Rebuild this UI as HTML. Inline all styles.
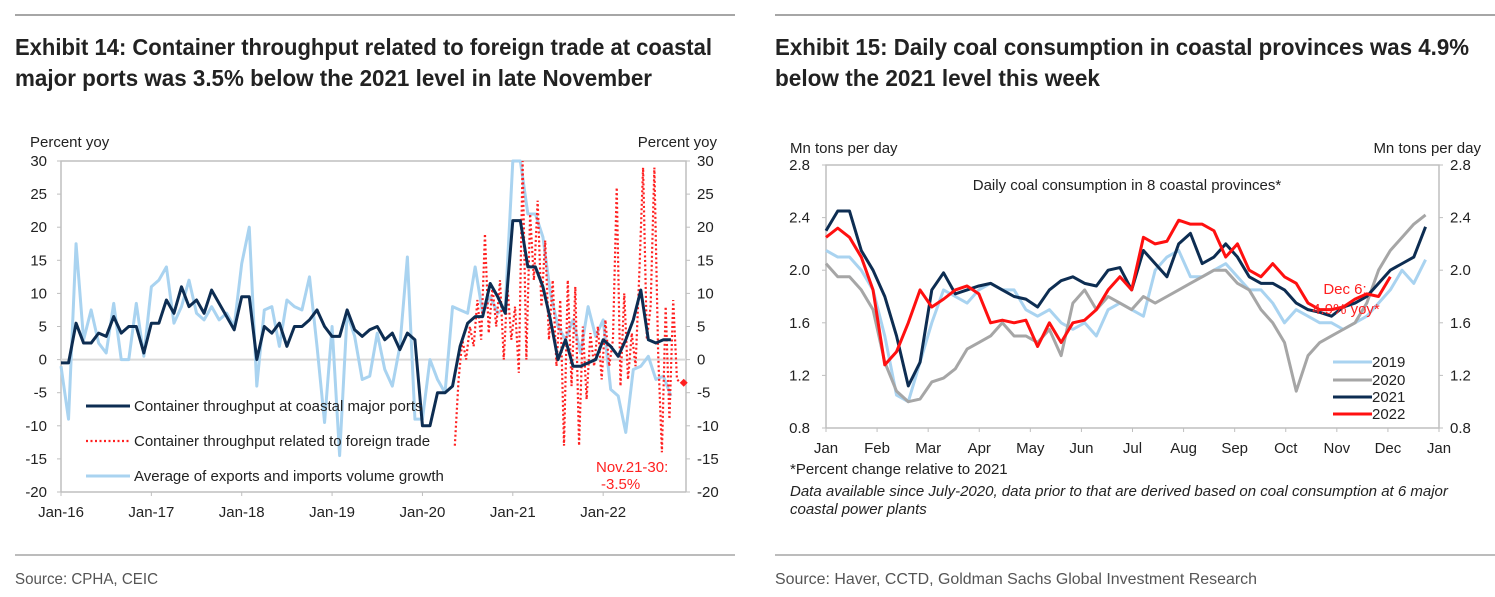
<!DOCTYPE html>
<html><head><meta charset="utf-8"><style>
html,body{margin:0;padding:0;background:#fff;}
svg{display:block;font-family:"Liberation Sans Narrow","Liberation Sans",sans-serif;}
</style></head><body>
<svg id="s" width="1495" height="597" viewBox="0 0 1495 597" xmlns="http://www.w3.org/2000/svg">
<line x1="15" y1="15" x2="735" y2="15" stroke="#a6a6a6" stroke-width="2"/>
<line x1="775" y1="15" x2="1495" y2="15" stroke="#a6a6a6" stroke-width="2"/>
<line x1="15" y1="555" x2="735" y2="555" stroke="#a6a6a6" stroke-width="1.5"/>
<line x1="775" y1="555" x2="1495" y2="555" stroke="#a6a6a6" stroke-width="1.5"/>
<g font-weight="bold" font-size="23" fill="#222">
<text x="15" y="55" textLength="697" lengthAdjust="spacingAndGlyphs">Exhibit 14: Container throughput related to foreign trade at coastal</text>
<text x="15" y="86" textLength="637" lengthAdjust="spacingAndGlyphs">major ports was 3.5% below the 2021 level in late November</text>
<text x="775" y="55" textLength="694" lengthAdjust="spacingAndGlyphs">Exhibit 15: Daily coal consumption in coastal provinces was 4.9%</text>
<text x="775" y="86" textLength="325" lengthAdjust="spacingAndGlyphs">below the 2021 level this week</text>
</g>
<text x="15" y="584" font-size="16" fill="#555" textLength="143" lengthAdjust="spacingAndGlyphs">Source: CPHA, CEIC</text>
<text x="775" y="584" font-size="16" fill="#555" textLength="482" lengthAdjust="spacingAndGlyphs">Source: Haver, CCTD, Goldman Sachs Global Investment Research</text>
<g id="left"></g>
<g id="right"></g>
</svg>
<script>
// ---- Left chart data (monthly from Jan-16) ----
const leftYears = ["Jan-16","Jan-17","Jan-18","Jan-19","Jan-20","Jan-21","Jan-22"];
const leftTicks = [30,25,20,15,10,5,0,-5,-10,-15,-20];
const portsThroughput = [-0.5,-0.5,5.5,2.5,2.5,4,3.5,6.5,4,5,5,1, 5.5,5.5,9,7,11,8,9,7,10.5,8.5,6.5,4.5, 9.5,9.5,0,5,4,5.5,2,5,5,6,7.5,5, 3.5,3.5,7.5,4.5,3.5,4.5,5,3,4,1.5,4,3, -10,-10,-5,-5,-4,2,5.5,6.5,6.5,11.5,9.5,7, 21,21,14,14,11,6,0,3,-1,-1,-0.5,0, 3,2,0.5,3,6,10.5,3,2.5,3,3];
const tradeVolume = [-1,-9,17.5,3,7.5,2.5,1,8.5,0,0,8.5,0.5, 11,12,14,5.5,8,12,7,6,8,6,7,5, 14.5,20,-4,7.5,8,2,9,8,7.5,12.5,2,-9.5, 5,-14.5,7,3.5,-3,-2.5,4,-1.5,-4,2,15.5,-9, -9,0,-3,-5,8,7.5,7,14,7,9.5,7,8, 30,30,22,22,18.5,10,5,3,6,1,8,3.5, 6,-4.5,-5.5,-11,-1.5,-1,0.5,-3,-2.5,-5.5];
const foreignTradeStart = 52.3; // month index of first foreign-trade observation
const foreignTrade = [-13,-3,3,0,5,2,9,3,19,4,11,5,12,0,11,3,8,-2,30,0,22,12,24,8,18,3,12,-1,9,-13,12,-4,11,-13,5,-6,4,-1,5,-3,6,-1,3,26,-4,10,-3,4,-1,13,29,3,8,29,1,-14,8,-9,9,-3,-3.5];
const latestValue = -3.5;

// ---- Right chart data (weekly, day-of-year = week*7) ----
const monthLabels = ["Jan","Feb","Mar","Apr","May","Jun","Jul","Aug","Sep","Oct","Nov","Dec","Jan"];
const rightTicks = [2.8,2.4,2.0,1.6,1.2,0.8];
const coal2019 = [2.15,2.1,2.1,2.0,1.85,1.5,1.05,1.0,1.3,1.6,1.85,1.8,1.75,1.85,1.9,1.85,1.85,1.7,1.65,1.7,1.6,1.55,1.6,1.5,1.7,1.75,1.7,1.65,2.0,2.1,2.15,1.95,1.95,2.0,2.05,1.95,1.85,1.85,1.75,1.6,1.7,1.65,1.6,1.6,1.55,1.6,1.65,1.75,1.85,2.0,1.9,2.08];
const coal2020 = [2.05,1.95,1.95,1.85,1.7,1.3,1.08,1.0,1.02,1.15,1.18,1.25,1.4,1.45,1.5,1.6,1.5,1.5,1.45,1.55,1.35,1.75,1.85,1.7,1.8,1.75,1.7,1.8,1.75,1.8,1.85,1.9,1.95,2.0,2.0,1.9,1.85,1.7,1.6,1.45,1.08,1.35,1.45,1.5,1.55,1.6,1.75,2.0,2.15,2.25,2.35,2.42];
const coal2021 = [2.3,2.45,2.45,2.15,2.0,1.8,1.5,1.12,1.3,1.85,1.98,1.82,1.85,1.88,1.9,1.85,1.8,1.78,1.72,1.85,1.92,1.95,1.9,1.88,2.0,2.02,1.85,2.15,2.05,1.95,2.2,2.28,2.05,2.1,2.2,2.1,1.95,1.9,1.9,1.85,1.75,1.7,1.68,1.65,1.72,1.75,1.8,1.9,2.0,2.05,2.1,2.33];
const coal2022 = [2.25,2.32,2.25,2.1,1.85,1.28,1.38,1.6,1.85,1.72,1.78,1.85,1.88,1.82,1.6,1.62,1.6,1.62,1.42,1.6,1.45,1.6,1.62,1.7,1.85,1.95,1.85,2.25,2.2,2.22,2.38,2.35,2.35,2.3,2.1,2.2,2.0,1.95,2.05,1.95,1.9,1.75,1.7,1.7,1.72,1.78,1.82,1.8,1.95];

const NS="http://www.w3.org/2000/svg";
function mk(parent,tag,attrs,text){const e=document.createElementNS(NS,tag);for(const k in attrs)e.setAttribute(k,attrs[k]);if(text!==undefined)e.textContent=text;parent.appendChild(e);return e;}

// ----- LEFT -----
(function(){
const g=document.getElementById('left');
const X0=61,X1=686,Y0=161,Y1=492;
const xm=m=>X0+m*(X1-X0)/83;
const yv=v=>Y0+(30-v)*(Y1-Y0)/50;
const cl=v=>Math.max(-20,Math.min(30,v));
let t;
t=mk(g,'text',{x:30,y:147,'font-size':15,fill:'#222'},'Percent yoy');


t=mk(g,'text',{x:717,y:147,'font-size':15,fill:'#222','text-anchor':'end'},'Percent yoy');


let fr=mk(g,'path',{d:`M${X0},${Y1}V${Y0}H${X1}V${Y1}`,fill:'none',stroke:'#bfbfbf','stroke-width':1.5});


let zl=mk(g,'line',{x1:X0,x2:X1,y1:yv(0),y2:yv(0),stroke:'#d9d9d9','stroke-width':2});


let bl=mk(g,'line',{x1:X0,x2:X1,y1:Y1,y2:Y1,stroke:'#bfbfbf','stroke-width':1.5});


leftTicks.forEach(v=>{
 let a=mk(g,'text',{x:47,y:yv(v)+5,'font-size':15,fill:'#222','text-anchor':'end'},String(v));
 
 
 let b=mk(g,'text',{x:697,y:yv(v)+5,'font-size':15,fill:'#222'},String(v));
 
 
 mk(g,'line',{x1:X0-4,x2:X0,y1:yv(v),y2:yv(v),stroke:'#bfbfbf'});
 mk(g,'line',{x1:X1,x2:X1+4,y1:yv(v),y2:yv(v),stroke:'#bfbfbf'});
});
leftYears.forEach((lab,i)=>{
 let a=mk(g,'text',{x:xm(i*12),y:517,'font-size':15,fill:'#222','text-anchor':'middle'},lab);
 
 
 mk(g,'line',{x1:xm(i*12),x2:xm(i*12),y1:Y1,y2:Y1+4,stroke:'#bfbfbf'});
});
const lb=mk(g,'polyline',{points:tradeVolume.map((v,i)=>xm(i)+','+yv(cl(v))).join(' '),fill:'none',stroke:'#a9d3f0','stroke-width':3,'stroke-linejoin':'round'});


const rd=mk(g,'polyline',{points:foreignTrade.map((v,i)=>xm(foreignTradeStart+i/2)+','+yv(cl(v))).join(' '),fill:'none',stroke:'#ff2020','stroke-width':2.2,'stroke-dasharray':'2 2.5'});


const dk=mk(g,'polyline',{points:portsThroughput.map((v,i)=>xm(i)+','+yv(cl(v))).join(' '),fill:'none',stroke:'#0d2d52','stroke-width':3,'stroke-linejoin':'round'});


const lx=xm(foreignTradeStart+(foreignTrade.length-1)/2)+3, ly=yv(latestValue);
const dm=mk(g,'path',{d:`M${lx},${ly-4}L${lx+4},${ly}L${lx},${ly+4}L${lx-4},${ly}Z`,fill:'#ff2020'});


const leg=[['Container throughput at coastal major ports','#0d2d52',null,406],['Container throughput related to foreign trade','#ff2020','2 2.5',441],['Average of exports and imports volume growth','#a9d3f0',null,476]];
leg.forEach(l=>{
 const e=mk(g,'g',{});
 
 
 const at={x1:86,x2:130,y1:l[3],y2:l[3],stroke:l[1],'stroke-width':l[2]?2.2:3};
 if(l[2])at['stroke-dasharray']=l[2];
 mk(e,'line',at);
 mk(e,'text',{x:134,y:l[3]+5,'font-size':15,fill:'#222'},l[0]);
});
let n1=mk(g,'text',{x:596,y:472,'font-size':15,fill:'#ff2020'},'Nov.21-30:');


let n2=mk(g,'text',{x:601,y:489,'font-size':15,fill:'#ff2020'},'-3.5%');


})();

// ----- RIGHT -----
(function(){
const g=document.getElementById('right');
const X0=826,X1=1439,Y0=165,Y1=428;
const xd=d=>X0+d*(X1-X0)/365;
const yv=v=>Y0+(2.8-v)*(Y1-Y0)/2.0;
let t;
t=mk(g,'text',{x:790,y:153,'font-size':15,fill:'#222'},'Mn tons per day');


t=mk(g,'text',{x:1481,y:153,'font-size':15,fill:'#222','text-anchor':'end'},'Mn tons per day');


let fr=mk(g,'path',{d:`M${X0},${Y1}V${Y0}H${X1}V${Y1}H${X0}`,fill:'none',stroke:'#bfbfbf','stroke-width':1.5});


rightTicks.forEach(v=>{
 let a=mk(g,'text',{x:810,y:yv(v)+5,'font-size':15,fill:'#222','text-anchor':'end'},v.toFixed(1));
 
 
 let b=mk(g,'text',{x:1450,y:yv(v)+5,'font-size':15,fill:'#222'},v.toFixed(1));
 
 
 mk(g,'line',{x1:X0-4,x2:X0,y1:yv(v),y2:yv(v),stroke:'#bfbfbf'});
 mk(g,'line',{x1:X1,x2:X1+4,y1:yv(v),y2:yv(v),stroke:'#bfbfbf'});
});
monthLabels.forEach((m,i)=>{
 const d=i*365/12;
 let a=mk(g,'text',{x:xd(d),y:453,'font-size':15,fill:'#222','text-anchor':'middle'},m);
 
 
 mk(g,'line',{x1:xd(d),x2:xd(d),y1:Y1,y2:Y1+4,stroke:'#bfbfbf'});
});
let ti=mk(g,'text',{x:1127,y:190,'font-size':15,fill:'#222','text-anchor':'middle'},'Daily coal consumption in 8 coastal provinces*');


const series=[[coal2019,'#a9d3f0','line-2019'],[coal2020,'#a6a6a6','line-2020'],[coal2021,'#0d2d52','line-2021'],[coal2022,'#ff1010','line-2022']];
series.forEach(s=>{
 const p=mk(g,'polyline',{points:s[0].map((v,i)=>xd(i*7)+','+yv(v)).join(' '),fill:'none',stroke:s[1],'stroke-width':3,'stroke-linejoin':'round'});
 
 
});
const leg=[['2019','#a9d3f0',362],['2020','#a6a6a6',380],['2021','#0d2d52',397],['2022','#ff1010',414]];
leg.forEach(l=>{
 const e=mk(g,'g',{});
 
 
 mk(e,'line',{x1:1333,x2:1372,y1:l[2],y2:l[2],stroke:l[1],'stroke-width':3});
 mk(e,'text',{x:1372,y:l[2]+5,'font-size':15,fill:'#222'},l[0]);
});
let a1=mk(g,'text',{x:1345,y:294,'font-size':15,fill:'#ff2020','text-anchor':'middle'},'Dec 6:');


let a2=mk(g,'text',{x:1346,y:314,'font-size':15,fill:'#ff2020','text-anchor':'middle'},'4.9% yoy*');


let f1=mk(g,'text',{x:790,y:474,'font-size':15,fill:'#222'},'*Percent change relative to 2021');


let f2=mk(g,'text',{x:790,y:496,'font-size':15,fill:'#222','font-style':'italic'},'Data available since July-2020, data prior to that are derived based on coal consumption at 6 major');


let f3=mk(g,'text',{x:790,y:514,'font-size':15,fill:'#222','font-style':'italic'},'coastal power plants');


})();
</script>
</body></html>
